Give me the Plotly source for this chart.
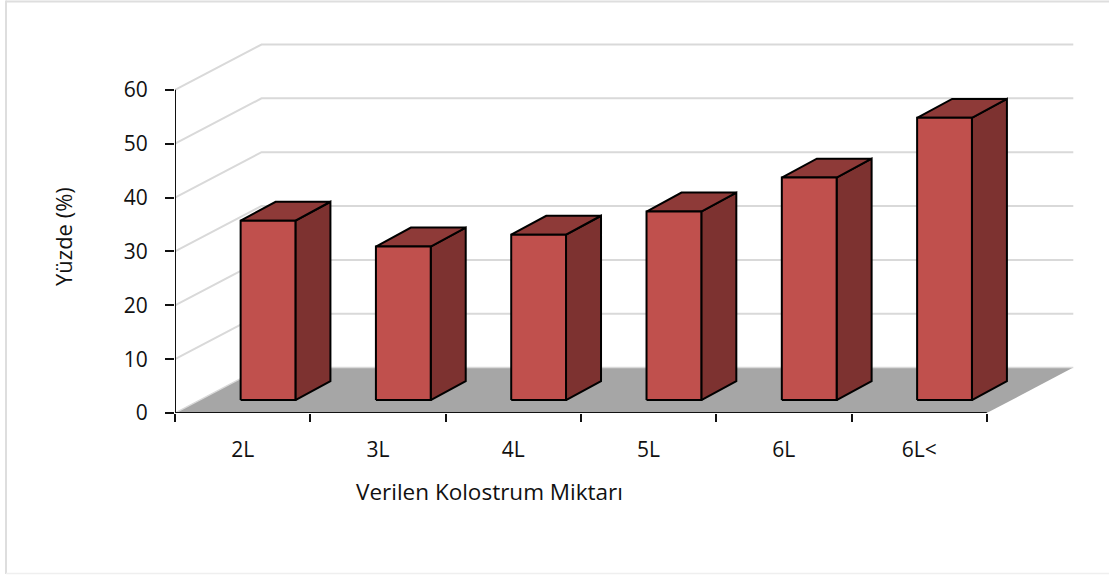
import plotly.graph_objects as go

# Amount of colostrum given and the share of calves in each group
categories = ["2L", "3L", "4L", "5L", "6L", "6L<"]
values = [33.3, 28.5, 30.7, 35.0, 41.3, 52.4]
y_ticks = [0, 10, 20, 30, 40, 50, 60]

FONT = "Open Sans, Noto Sans, sans-serif"
INK = "#111111"
GRID = "#D9D9D9"
FLOOR = "#A6A6A6"
FRONT = "#C0504D"
SIDE = "#7D3230"
TOP = "#8E3A38"

W, H = 1109, 575
LEFT, RIGHT, TOP_M, BOTTOM = 175, 1075, 42.5, 413.5
UX = 135.3  # pixels per category
UY = 5.4    # pixels per percentage point
X_MAX = (RIGHT - LEFT) / UX
Y_MAX = (BOTTOM - TOP_M) / UY

# Oblique projection of the chart's depth, in axis units
WALL_DX, WALL_DY = 86.5 / UX, 45.5 / UY
BAR_DX, BAR_DY = 35.0 / UX, 19.0 / UY
BAR_LEFT, BAR_WIDTH, BAR_BASE = 0.485, 0.405, 13.0 / UY

n = len(categories)
fig = go.Figure()


def poly(xs, ys, fill=None, line=None, width=0, axis="x"):
    fig.add_trace(go.Scatter(
        x=xs, y=ys, xaxis=axis, mode="lines", cliponaxis=False,
        fill="toself" if fill else "none", fillcolor=fill,
        line=dict(color=line or "rgba(0,0,0,0)", width=width),
        hoverinfo="skip", showlegend=False,
    ))


# Side wall and back wall gridlines
for t in y_ticks[1:]:
    poly([0, WALL_DX, n + WALL_DX], [t, t + WALL_DY, t + WALL_DY], line=GRID, width=2)

# Floor
poly([0, WALL_DX, n + WALL_DX, n, 0],
     [0, WALL_DY, WALL_DY, 0, 0], fill=FLOOR)
poly([0, WALL_DX, n + WALL_DX], [0, WALL_DY, WALL_DY], line=GRID, width=1.5)

# Axis lines stop at the front edge of the floor
poly([0, 0], [0, y_ticks[-1]], line=INK, width=2)
poly([0, n], [0, 0], line=INK, width=2)

# Extruded bars
for i, v in enumerate(values):
    x0 = i + BAR_LEFT
    x1 = x0 + BAR_WIDTH
    y0 = BAR_BASE
    y1 = BAR_BASE + v
    poly([x1, x1 + BAR_DX, x1 + BAR_DX, x1, x1],
         [y0, y0 + BAR_DY, y1 + BAR_DY, y1, y0], fill=SIDE, line="#000000", width=2)
    poly([x0, x0 + BAR_DX, x1 + BAR_DX, x1, x0],
         [y1, y1 + BAR_DY, y1 + BAR_DY, y1, y1], fill=TOP, line="#000000", width=2)
    poly([x0, x1, x1, x0, x0],
         [y0, y0, y1, y1, y0], fill=FRONT, line="#000000", width=2)

# Category labels sit between the tick marks, on an overlaid axis
fig.add_trace(go.Scatter(x=[0.5], y=[0], xaxis="x2", mode="markers",
                         marker=dict(opacity=0), hoverinfo="skip", showlegend=False))


def px_x(p):
    return (p - LEFT) / (RIGHT - LEFT)


def px_y(p):
    return (BOTTOM - p) / (BOTTOM - TOP_M)


frame = dict(type="line", xref="paper", yref="paper",
             line=dict(color="#DEDEDE", width=2), layer="below")

fig.update_layout(
    width=W, height=H, autosize=False,
    margin=dict(l=LEFT, r=W - RIGHT, t=TOP_M, b=H - BOTTOM, pad=0),
    paper_bgcolor="white", plot_bgcolor="white",
    font=dict(family=FONT, size=21, color=INK),
    xaxis=dict(
        range=[0, X_MAX], tickmode="array", tickvals=list(range(n + 1)),
        ticktext=[""] * (n + 1), ticks="outside", ticklen=8, tickwidth=2,
        tickcolor=INK, showgrid=False, zeroline=False, showline=False,
    ),
    xaxis2=dict(
        range=[0, X_MAX], overlaying="x", side="bottom", anchor="y",
        tickmode="array", tickvals=[i + 0.5 for i in range(n)], ticktext=categories,
        ticks="", ticklabelstandoff=22, tickfont=dict(size=21),
        showgrid=False, zeroline=False, showline=False,
    ),
    yaxis=dict(
        range=[0, Y_MAX], tickmode="array", tickvals=y_ticks,
        ticks="outside", ticklen=9, tickwidth=2, tickcolor=INK,
        ticklabelstandoff=13, tickfont=dict(size=21),
        showgrid=False, zeroline=False, showline=False,
    ),
    shapes=[
        dict(frame, x0=px_x(6), x1=px_x(6), y0=px_y(0), y1=px_y(575)),
        dict(frame, x0=px_x(6), x1=px_x(W), y0=px_y(1), y1=px_y(1)),
        dict(frame, x0=px_x(6), x1=px_x(W), y0=px_y(574.5), y1=px_y(574.5),
             line=dict(color="#EFEFEF", width=1.5)),
    ],
    annotations=[
        dict(text="Verilen Kolostrum Miktarı", xref="paper", yref="paper",
             x=px_x(489), y=px_y(492), xanchor="center", yanchor="middle",
             showarrow=False, font=dict(size=22.5)),
        dict(text="Yüzde (%)", xref="paper", yref="paper", textangle=-90,
             x=px_x(63), y=px_y(237), xanchor="center", yanchor="middle",
             showarrow=False, font=dict(size=22)),
    ],
)

fig.write_html("out.html")
